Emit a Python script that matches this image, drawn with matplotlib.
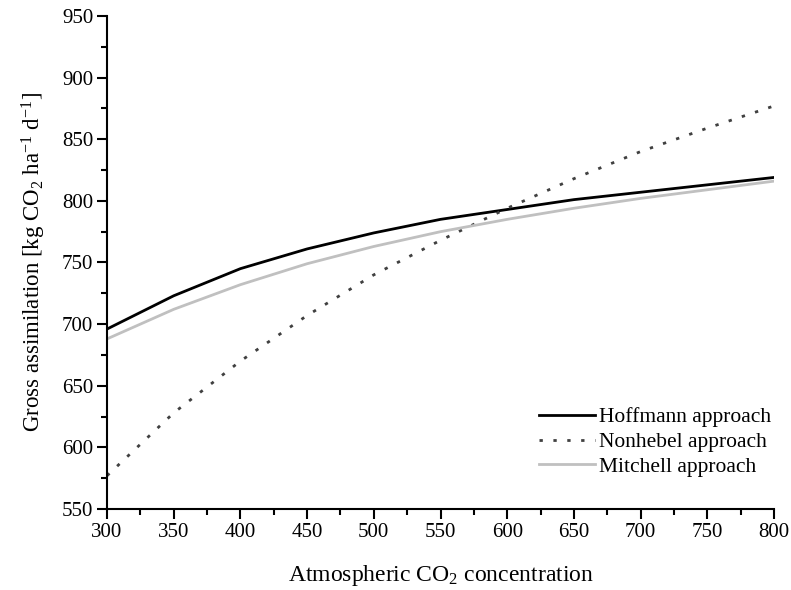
import matplotlib
matplotlib.use("Agg")
import matplotlib.pyplot as plt
from matplotlib.ticker import MultipleLocator

plt.rcParams["font.family"] = ["Liberation Serif", "DejaVu Serif"]
plt.rcParams["mathtext.fontset"] = "custom"
plt.rcParams["mathtext.rm"] = "Liberation Serif"
plt.rcParams["mathtext.it"] = "Liberation Serif:italic"

# Daten
co2 = [300, 350, 400, 450, 500, 550, 600, 650, 700, 750, 800]
hoffmann = [696, 723, 745, 761, 774, 785, 793, 801, 807, 813, 819]
nonhebel = [577, 628, 670, 707, 740, 768, 794, 818, 840, 859, 877]
mitchell = [688, 712, 732, 749, 763, 775, 785, 794, 802, 809, 816]

fig = plt.figure(figsize=(7.91, 5.90), dpi=100)
ax = fig.add_axes([0.1353, 0.1373, 0.8432, 0.8356])

ax.plot(co2, hoffmann, color="black", linewidth=2.0, label="Hoffmann approach")
ax.plot(co2, nonhebel, color="#404040", linewidth=2.0, linestyle=(0, (1.2, 3.8)),
        label="Nonhebel approach")
ax.plot(co2, mitchell, color="#c0c0c0", linewidth=2.0, label="Mitchell approach")

ax.set_xlim(300, 800)
ax.set_ylim(550, 950)
ax.xaxis.set_major_locator(MultipleLocator(50))
ax.xaxis.set_minor_locator(MultipleLocator(25))
ax.yaxis.set_major_locator(MultipleLocator(50))
ax.yaxis.set_minor_locator(MultipleLocator(25))

for s in ("top", "right"):
    ax.spines[s].set_visible(False)
for s in ("left", "bottom"):
    ax.spines[s].set_linewidth(1.5)

ax.tick_params(which="major", direction="out", length=7, width=1.5, labelsize=15, pad=3)
ax.tick_params(which="minor", direction="out", length=4, width=1.5)

ax.set_xlabel("Atmospheric CO$_2$ concentration", fontsize=17, labelpad=15)
ax.set_ylabel("Gross assimilation [kg CO$_2$ ha$^{-1}$ d$^{-1}$]", fontsize=16.5, labelpad=10)

ax.legend(loc="lower right", bbox_to_anchor=(0.995, 0.065), frameon=False, fontsize=15.5,
          handlelength=2.6, handletextpad=0.15, labelspacing=0.22,
          borderpad=0, borderaxespad=0)

fig.savefig("out.png", dpi=100)
